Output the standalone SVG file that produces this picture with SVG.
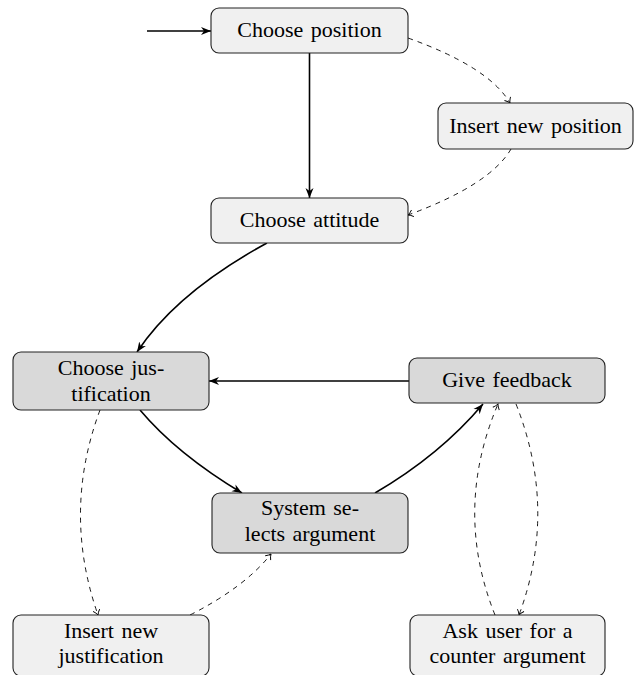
<svg xmlns="http://www.w3.org/2000/svg" width="634" height="675" viewBox="0 0 634 675">
<style>
.box{stroke:#222;stroke-width:1.1;}
.light{fill:#f0f0f0;}
.dark{fill:#d9d9d9;}
text{font-family:"Liberation Serif","Times New Roman","DejaVu Serif",serif;font-size:22px;fill:#000;text-anchor:middle;word-spacing:2px;}
.solid{fill:none;stroke:#000;stroke-width:1.6;marker-end:url(#stealth);}
.dash{fill:none;stroke:#000;stroke-width:0.9;stroke-dasharray:5 5;marker-end:url(#to);}
</style>
<defs>
<marker id="stealth" markerWidth="12" markerHeight="10" refX="10" refY="5" orient="auto" markerUnits="userSpaceOnUse">
<path d="M0,1 L10,5 L0,9 L3,5 z" fill="#000"/>
</marker>
<marker id="to" markerWidth="8" markerHeight="10" refX="6" refY="5" orient="auto" markerUnits="userSpaceOnUse">
<path d="M1,1.5 Q3.5,4 6,5 Q3.5,6 1,8.5" fill="none" stroke="#000" stroke-width="0.9"/>
</marker>
</defs>

<g id="connectors">
<path class="solid" d="M147,31 L211,31"/>
<path class="solid" d="M309.5,53 L309.5,198"/>
<path class="dash" d="M408,38 Q489,67 510,103"/>
<path class="dash" d="M511,149 Q490,185 408,215"/>
<path class="solid" d="M267,243 Q177,292 137,352"/>
<path class="solid" d="M409,381 L209,381"/>
<path class="solid" d="M140,410 Q177,454 242,493"/>
<path class="solid" d="M375,493 Q440,455 483,404"/>
<path class="dash" d="M100,410 Q62,512 98,615"/>
<path class="dash" d="M190,615 Q245,587 271,554"/>
<path class="dash" d="M495,615 Q453,510 498,404"/>
<path class="dash" d="M516,404 Q558,510 519,615"/>
</g>

<g id="choose-position">
<rect class="box light" x="211" y="8" width="197" height="45" rx="8"/>
<text x="309.5" y="37">Choose position</text>
</g>
<g id="insert-new-position">
<rect class="box light" x="438" y="103" width="195" height="46" rx="8"/>
<text x="535.5" y="133">Insert new position</text>
</g>
<g id="choose-attitude">
<rect class="box light" x="211" y="198" width="197" height="45" rx="8"/>
<text x="309.5" y="227">Choose attitude</text>
</g>
<g id="choose-justification">
<rect class="box dark" x="13" y="352" width="196" height="58" rx="8"/>
<text x="111" y="375">Choose jus-</text>
<text x="111" y="401">tification</text>
</g>
<g id="give-feedback">
<rect class="box dark" x="409" y="358" width="196" height="45" rx="8"/>
<text x="507" y="387">Give feedback</text>
</g>
<g id="system-selects-argument">
<rect class="box dark" x="212" y="493" width="196" height="60" rx="8"/>
<text x="310" y="515">System se-</text>
<text x="310" y="541">lects argument</text>
</g>
<g id="insert-new-justification">
<rect class="box light" x="13" y="615" width="196" height="61" rx="8"/>
<text x="111" y="638">Insert new</text>
<text x="111" y="663">justification</text>
</g>
<g id="ask-user">
<rect class="box light" x="410" y="615" width="195" height="61" rx="8"/>
<text x="507.5" y="638">Ask user for a</text>
<text x="507.5" y="663">counter argument</text>
</g>
</svg>
